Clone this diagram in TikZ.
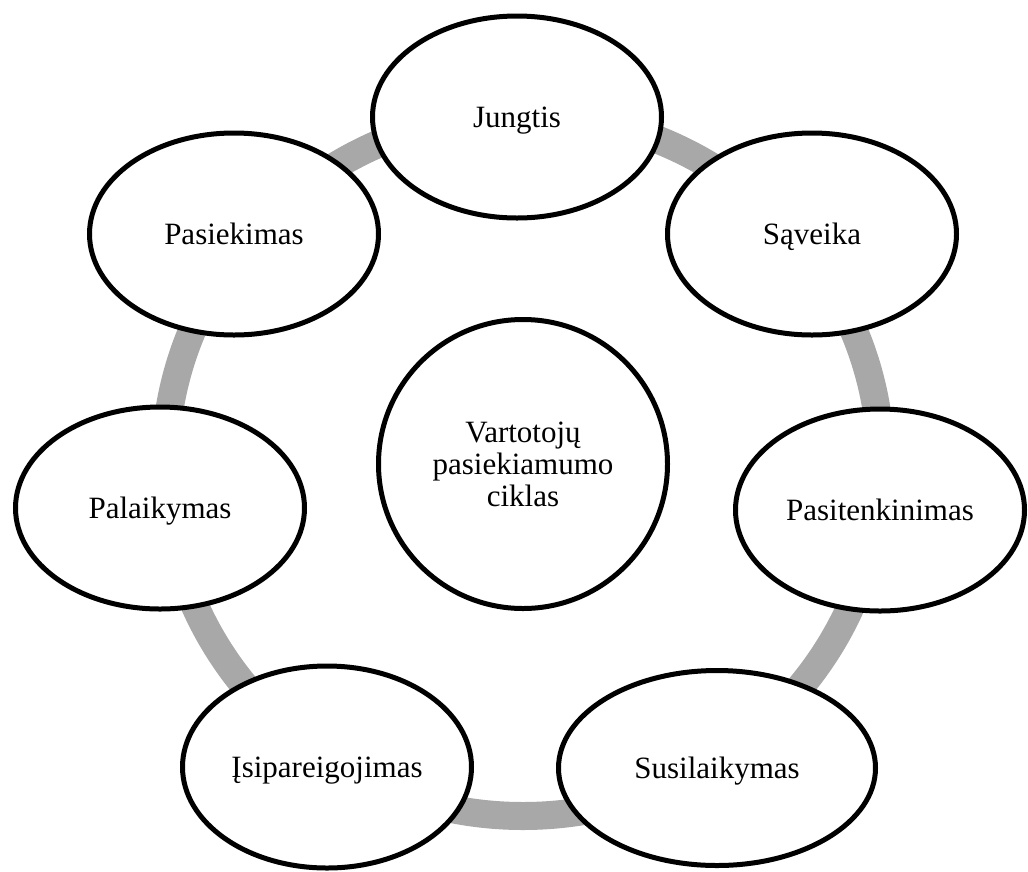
\documentclass[tikz,border=0pt]{standalone}
\usepackage{fontspec}
\setmainfont{Liberation Serif}
\usetikzlibrary{shapes.geometric}
\definecolor{ringgray}{RGB}{168,168,168}
\begin{document}
\begin{tikzpicture}[x=1pt,y=-1pt,
  labelfont/.style={font=\fontsize{31}{32}\selectfont},
  stage/.style={ellipse, draw=black, line width=5pt, fill=white, inner sep=0pt,
    minimum width=289pt, minimum height=202pt,
    text height=20.5pt, text depth=0pt, labelfont},
  hub/.style={circle, draw=black, line width=5pt, fill=white, inner sep=0pt,
    minimum size=289pt, align=center, labelfont}]
\useasboundingbox (0,0) rectangle (1028,871);

% the cycle ring behind the stages
\draw[ringgray, line width=28pt] (523,465) ellipse [x radius=358, y radius=351];

% stages around the ring
\node[stage] (jungtis)   at (517,117) {Jungtis};
\node[stage] (saveika)   at (812,234) {Sąveika};
\node[stage] (pasitenk)  at (880,510) {Pasitenkinimas};
\node[stage, minimum width=317pt, minimum height=195pt] (susilaik) at (717,768) {Susilaikymas};
\node[stage] (isipar)    at (327,767) {Įsipareigojimas};
\node[stage] (palaik)    at (160,508) {Palaikymas};
\node[stage] (pasiek)    at (234,234) {Pasiekimas};

% centre of the cycle
\node[hub] (hub) at (523,464) {Vartotojų\\pasiekiamumo\\ciklas};
\end{tikzpicture}
\end{document}
